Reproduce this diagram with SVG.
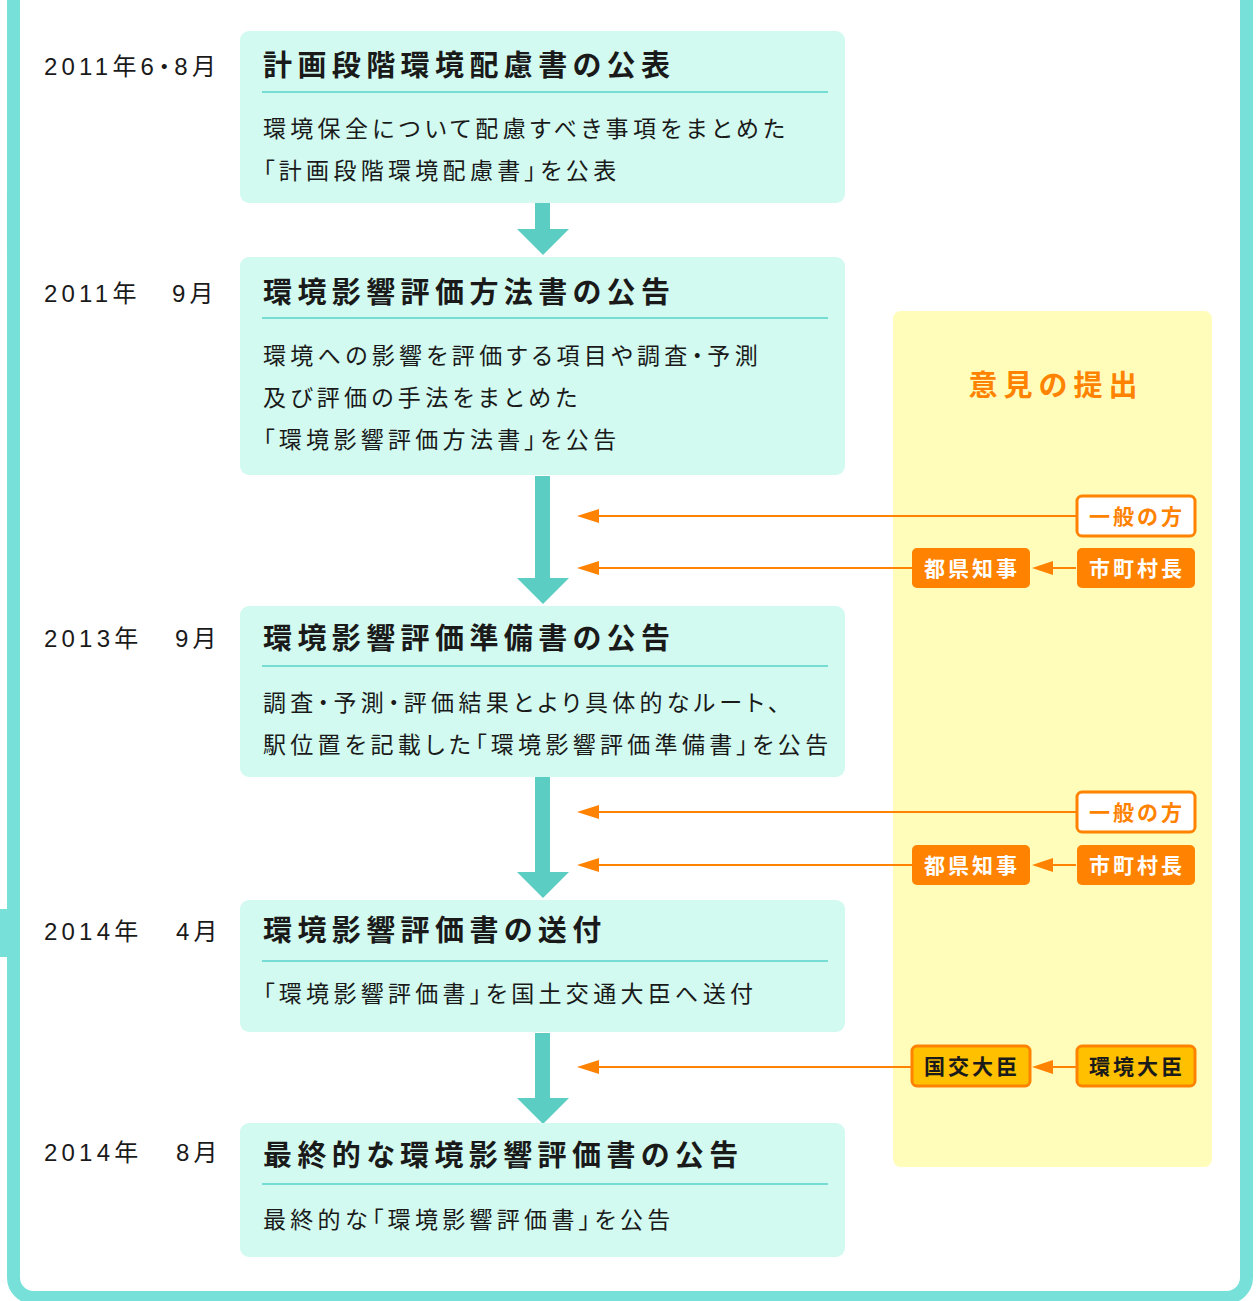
<svg xmlns="http://www.w3.org/2000/svg" width="1257" height="1301" viewBox="0 0 1257 1301">
<style>
text{font-family:"Noto Sans CJK JP","Noto Sans",sans-serif;}
.date{font-family:"Liberation Sans","Noto Sans CJK JP",sans-serif;font-size:24px;fill:#1a1a1a;letter-spacing:4.2px;font-feature-settings:"palt";}
.ttl{font-size:29px;font-weight:bold;fill:#1a1a1a;letter-spacing:5.4px;font-feature-settings:"palt";}
.body{font-size:23px;fill:#1a1a1a;letter-spacing:4.3px;font-feature-settings:"palt";}
.box{fill:#d2faf0;}
.ul{stroke:#76dcd4;stroke-width:2;}
.arr{fill:#5ccdc2;}
.oline{stroke:#ff8200;stroke-width:2;fill:none;}
.ohead{fill:#ff8200;}
.bw{fill:#ffffff;stroke:#ff8200;stroke-width:3;}
.bo{fill:#ff8200;}
.by{fill:#ffc000;stroke:#ff8200;stroke-width:3;}
.bt{font-size:21px;font-weight:bold;letter-spacing:3px;text-anchor:middle;}
</style>
<rect x="0" y="0" width="1257" height="1301" fill="#ffffff"/>
<rect x="13.5" y="-20" width="1233" height="1317.5" rx="20" fill="#ffffff" stroke="#76e0d9" stroke-width="13"/>
<rect x="0" y="909" width="12" height="48" fill="#76e0d9"/>
<rect x="893" y="311" width="319" height="856" rx="8" fill="#fffdb9"/>
<text x="1056" y="396" font-size="29" font-weight="bold" fill="#ff8200" text-anchor="middle" letter-spacing="6">意見の提出</text>
<g id="connectors">
<path class="arr" d="M535 203H550V229H569L543 255L517 229H535Z"/>
<path class="arr" d="M535 476H550V578H569L543 604L517 578H535Z"/>
<path class="arr" d="M535 777H550V872H569L543 898L517 872H535Z"/>
<path class="arr" d="M535 1033H550V1098H569L543 1124L517 1098H535Z"/>
<line class="oline" x1="595" y1="516" x2="1076" y2="516"/><path class="ohead" d="M577 516L599 509V523Z"/>
<line class="oline" x1="595" y1="568" x2="912" y2="568"/><path class="ohead" d="M577 568L599 561V575Z"/>
<line class="oline" x1="1050" y1="568" x2="1076" y2="568"/><path class="ohead" d="M1032 568L1053 561V575Z"/>
<line class="oline" x1="595" y1="812" x2="1076" y2="812"/><path class="ohead" d="M577 812L599 805V819Z"/>
<line class="oline" x1="595" y1="865" x2="912" y2="865"/><path class="ohead" d="M577 865L599 858V872Z"/>
<line class="oline" x1="1050" y1="865" x2="1076" y2="865"/><path class="ohead" d="M1032 865L1053 858V872Z"/>
<line class="oline" x1="595" y1="1067" x2="911" y2="1067"/><path class="ohead" d="M577 1067L599 1060V1074Z"/>
<line class="oline" x1="1050" y1="1067" x2="1076" y2="1067"/><path class="ohead" d="M1032 1067L1053 1060V1074Z"/>
</g>
<g id="date1"><text class="date" x="44" y="75">2011年6・8月</text></g>
<g id="date2"><text class="date" x="44" y="302">2011年<tspan x="172">9月</tspan></text></g>
<g id="date3"><text class="date" x="44" y="647">2013年<tspan x="175">9月</tspan></text></g>
<g id="date4"><text class="date" x="44" y="940">2014年<tspan x="176">4月</tspan></text></g>
<g id="date5"><text class="date" x="44" y="1161">2014年<tspan x="176">8月</tspan></text></g>
<g id="node1">
<rect class="box" x="240" y="31" width="605" height="172" rx="9"/>
<text class="ttl" x="263" y="76">計画段階環境配慮書の公表</text>
<line class="ul" x1="262" y1="92" x2="828" y2="92"/>
<text class="body" x="263" y="137">環境保全について配慮すべき事項をまとめた</text>
<text class="body" x="263" y="179">「計画段階環境配慮書」を公表</text>
</g>
<g id="node2">
<rect class="box" x="240" y="257" width="605" height="218" rx="9"/>
<text class="ttl" x="263" y="303">環境影響評価方法書の公告</text>
<line class="ul" x1="262" y1="318" x2="828" y2="318"/>
<text class="body" x="263" y="364">環境への影響を評価する項目や調査・予測</text>
<text class="body" x="263" y="406">及び評価の手法をまとめた</text>
<text class="body" x="263" y="448">「環境影響評価方法書」を公告</text>
</g>
<g id="node3">
<rect class="box" x="240" y="606" width="605" height="171" rx="9"/>
<text class="ttl" x="263" y="649">環境影響評価準備書の公告</text>
<line class="ul" x1="262" y1="666" x2="828" y2="666"/>
<text class="body" x="263" y="711">調査・予測・評価結果とより具体的なルート、</text>
<text class="body" x="263" y="753">駅位置を記載した「環境影響評価準備書」を公告</text>
</g>
<g id="node4">
<rect class="box" x="240" y="900" width="605" height="132" rx="9"/>
<text class="ttl" x="263" y="941">環境影響評価書の送付</text>
<line class="ul" x1="262" y1="961" x2="828" y2="961"/>
<text class="body" x="263" y="1002">「環境影響評価書」を国土交通大臣へ送付</text>
</g>
<g id="node5">
<rect class="box" x="240" y="1123" width="605" height="134" rx="9"/>
<text class="ttl" x="263" y="1166">最終的な環境影響評価書の公告</text>
<line class="ul" x1="262" y1="1184" x2="828" y2="1184"/>
<text class="body" x="263" y="1228">最終的な「環境影響評価書」を公告</text>
</g>
<g id="b-ippan1"><rect class="bw" x="1077" y="496" width="118" height="40" rx="5"/><text class="bt" x="1137" y="524" fill="#ff8200">一般の方</text></g>
<g id="b-token1"><rect class="bo" x="912" y="548" width="118" height="40" rx="5"/><text class="bt" x="972" y="576" fill="#ffffff">都県知事</text></g>
<g id="b-shicho1"><rect class="bo" x="1077" y="548" width="118" height="40" rx="5"/><text class="bt" x="1137" y="576" fill="#ffffff">市町村長</text></g>
<g id="b-ippan2"><rect class="bw" x="1077" y="792" width="118" height="40" rx="5"/><text class="bt" x="1137" y="820" fill="#ff8200">一般の方</text></g>
<g id="b-token2"><rect class="bo" x="912" y="845" width="118" height="40" rx="5"/><text class="bt" x="972" y="873" fill="#ffffff">都県知事</text></g>
<g id="b-shicho2"><rect class="bo" x="1077" y="845" width="118" height="40" rx="5"/><text class="bt" x="1137" y="873" fill="#ffffff">市町村長</text></g>
<g id="b-kokko"><rect class="by" x="912" y="1046" width="118" height="40" rx="5"/><text class="bt" x="972" y="1074" fill="#1a1a1a">国交大臣</text></g>
<g id="b-kankyo"><rect class="by" x="1077" y="1046" width="118" height="40" rx="5"/><text class="bt" x="1137" y="1074" fill="#1a1a1a">環境大臣</text></g>
</svg>
